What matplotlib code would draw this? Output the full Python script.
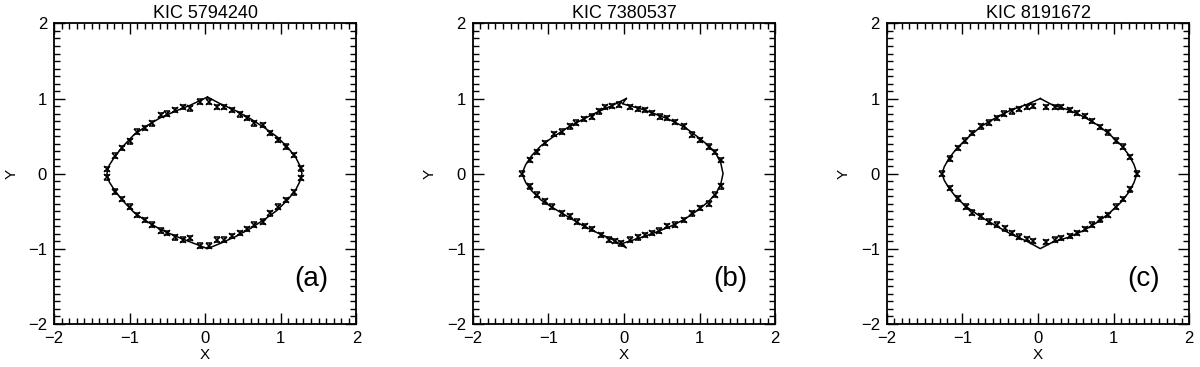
import matplotlib
matplotlib.use("Agg")
import matplotlib.pyplot as plt
from matplotlib.ticker import MultipleLocator

plt.rcParams['font.family'] = ['Liberation Sans', 'DejaVu Sans']

titles = ["KIC 5794240", "KIC 7380537", "KIC 8191672"]
tags = ["(a)", "(b)", "(c)"]

pts_a_x = [0.05, 0.15, 0.25, 0.35, 0.46, 0.55, 0.65, 0.76, 0.86, 0.96, 1.07, 1.17, 1.27,
           1.27, 1.17, 1.07, 0.96, 0.86, 0.76, 0.65, 0.55, 0.46, 0.35, 0.25, 0.15, 0.05,
           -0.07, -0.20, -0.30, -0.40, -0.50, -0.59, -0.70, -0.79, -0.90, -1.00, -1.10, -1.19, -1.30,
           -1.30, -1.19, -1.10, -1.00, -0.90, -0.79, -0.70, -0.59, -0.50, -0.40, -0.30, -0.20, -0.07]
pts_a_y = [0.96, 0.89, 0.89, 0.85, 0.79, 0.74, 0.67, 0.65, 0.54, 0.45, 0.36, 0.25, 0.07,
           -0.06, -0.25, -0.35, -0.44, -0.53, -0.64, -0.68, -0.74, -0.79, -0.83, -0.88, -0.88, -0.96,
           0.96, 0.87, 0.89, 0.85, 0.80, 0.78, 0.67, 0.61, 0.56, 0.43, 0.34, 0.24, 0.06,
           -0.05, -0.24, -0.34, -0.44, -0.55, -0.62, -0.68, -0.76, -0.79, -0.85, -0.88, -0.86, -0.96]

pts_b_x = [-1.35, -1.24, -1.15, -1.04, -0.93, -0.82, -0.72, -0.63, -0.53, -0.42, -0.33, -0.25, -0.16, -0.06,
           0.08, 0.19, 0.28, 0.37, 0.48, 0.57, 0.68, 0.79, 0.90, 1.01, 1.12, 1.21, 1.28,
           1.28, 1.21, 1.12, 1.01, 0.90, 0.79, 0.68, 0.57, 0.46, 0.37, 0.28, 0.19, 0.08, -0.04,
           -0.12, -0.20, -0.31, -0.42, -0.51, -0.62, -0.72, -0.82, -0.95, -1.04, -1.15, -1.24]
pts_b_y = [0.00, 0.18, 0.29, 0.41, 0.53, 0.56, 0.63, 0.68, 0.73, 0.76, 0.83, 0.89, 0.90, 0.92,
           0.89, 0.86, 0.85, 0.81, 0.76, 0.74, 0.69, 0.63, 0.52, 0.45, 0.36, 0.29, 0.18,
           -0.17, -0.28, -0.40, -0.46, -0.53, -0.62, -0.68, -0.70, -0.76, -0.79, -0.82, -0.85, -0.88, -0.93,
           -0.90, -0.88, -0.82, -0.74, -0.70, -0.64, -0.57, -0.53, -0.44, -0.37, -0.28, -0.17]

pts_c_x = [-1.27, -1.16, -1.06, -0.96, -0.87, -0.76, -0.65, -0.54, -0.45, -0.35, -0.25, -0.15, -0.06,
           0.11, 0.22, 0.31, 0.42, 0.52, 0.62, 0.72, 0.82, 0.92, 1.03, 1.12, 1.22, 1.31,
           1.22, 1.12, 1.03, 0.92, 0.82, 0.72, 0.62, 0.52, 0.42, 0.31, 0.22, 0.11,
           -0.06, -0.15, -0.25, -0.35, -0.43, -0.54, -0.65, -0.76, -0.87, -0.95, -1.06, -1.16]
pts_c_y = [0.00, 0.20, 0.34, 0.44, 0.54, 0.63, 0.68, 0.74, 0.80, 0.83, 0.86, 0.89, 0.90,
           0.89, 0.89, 0.89, 0.85, 0.81, 0.77, 0.70, 0.62, 0.55, 0.44, 0.36, 0.22, 0.00,
           -0.21, -0.34, -0.44, -0.55, -0.61, -0.68, -0.74, -0.79, -0.83, -0.86, -0.88, -0.91,
           -0.90, -0.87, -0.84, -0.79, -0.73, -0.68, -0.64, -0.57, -0.52, -0.44, -0.33, -0.19]

# fitted model curves (closed loops)
curve_a_x = [0.03, 0.2, 0.4, 0.6, 0.8, 0.95, 1.1, 1.2, 1.25, 1.28, 1.25, 1.2, 1.1, 0.95, 0.8, 0.6, 0.4, 0.2,
             0.03, -0.2, -0.4, -0.6, -0.8, -0.95, -1.1, -1.2, -1.27, -1.30, -1.27, -1.2, -1.1, -0.95,
             -0.8, -0.6, -0.4, -0.2, 0.03]
curve_a_y = [1.02, 0.93, 0.84, 0.73, 0.60, 0.49, 0.34, 0.21, 0.11, 0.0, -0.11, -0.21, -0.34, -0.49, -0.60,
             -0.73, -0.84, -0.93, -1.0, -0.91, -0.83, -0.74, -0.62, -0.51, -0.35, -0.22, -0.11, 0.0,
             0.11, 0.22, 0.35, 0.51, 0.62, 0.74, 0.83, 0.91, 1.02]

curve_b_x = [0.03, -0.15, -0.35, -0.55, -0.75, -0.95, -1.1, -1.22, -1.30, -1.35, -1.30, -1.22, -1.1, -0.95,
             -0.75, -0.55, -0.35, -0.15, 0.03, -0.02, 0.2, 0.4, 0.6, 0.8, 1.0, 1.12, 1.22, 1.28, 1.31, 1.28,
             1.22, 1.12, 1.0, 0.8, 0.6, 0.4, 0.2, -0.02, 0.03]
curve_b_y = [1.0, 0.91, 0.82, 0.72, 0.61, 0.48, 0.37, 0.24, 0.12, 0.0, -0.12, -0.23, -0.35, -0.45, -0.57,
             -0.69, -0.79, -0.88, -0.99, -0.93, -0.86, -0.79, -0.71, -0.61, -0.47, -0.37, -0.26, -0.14, 0.0,
             0.14, 0.26, 0.37, 0.47, 0.62, 0.72, 0.80, 0.87, 0.93, 1.0]

curve_c_x = [0.03, 0.2, 0.4, 0.6, 0.8, 0.95, 1.1, 1.2, 1.27, 1.31, 1.27, 1.2, 1.1, 0.95, 0.8, 0.6, 0.4, 0.2,
             0.03, -0.15, -0.35, -0.55, -0.75, -0.95, -1.08, -1.18, -1.24, -1.27, -1.24, -1.18, -1.08,
             -0.95, -0.75, -0.55, -0.35, -0.15, 0.03]
curve_c_y = [1.0, 0.91, 0.85, 0.76, 0.64, 0.52, 0.38, 0.25, 0.12, 0.0, -0.12, -0.25, -0.38, -0.52, -0.64,
             -0.76, -0.85, -0.91, -1.0, -0.90, -0.81, -0.70, -0.58, -0.44, -0.32, -0.19, -0.09, 0.0,
             0.09, 0.20, 0.33, 0.46, 0.63, 0.75, 0.85, 0.92, 1.0]

point_err = 0.03

panels = [
    (pts_a_x, pts_a_y, curve_a_x, curve_a_y),
    (pts_b_x, pts_b_y, curve_b_x, curve_b_y),
    (pts_c_x, pts_c_y, curve_c_x, curve_c_y),
]

fig = plt.figure(figsize=(12, 3.67), dpi=100)
lefts = [0.045, 0.394, 0.739]

for i, (px, py, cx, cy) in enumerate(panels):
    ax = fig.add_axes([lefts[i], 0.118, 0.252, 0.818])
    ax.plot(cx, cy, color='black', lw=1.1)
    ax.errorbar(px, py, yerr=point_err, fmt='x', color='black', ms=5, mew=1.1,
                elinewidth=0.8, capsize=2, capthick=0.9)
    ax.set_xlim(-2, 2)
    ax.set_ylim(-2, 2)
    ax.xaxis.set_major_locator(MultipleLocator(1))
    ax.yaxis.set_major_locator(MultipleLocator(1))
    ax.xaxis.set_minor_locator(MultipleLocator(0.1))
    ax.yaxis.set_minor_locator(MultipleLocator(0.1))
    ax.tick_params(which='both', direction='in', top=True, right=True, labelsize=12, width=1.0)
    ax.tick_params(which='major', length=8, pad=5)
    ax.tick_params(which='minor', length=4)
    for s in ax.spines.values():
        s.set_linewidth(1.3)
    ax.set_title(titles[i], fontsize=13, pad=4)
    ax.set_xlabel("X", fontsize=11, labelpad=2)
    ax.set_ylabel("Y", fontsize=11, labelpad=7)
    ax.text(1.4, -1.4, tags[i], fontsize=20, ha='center', va='center')

fig.savefig("out.png", dpi=100)
